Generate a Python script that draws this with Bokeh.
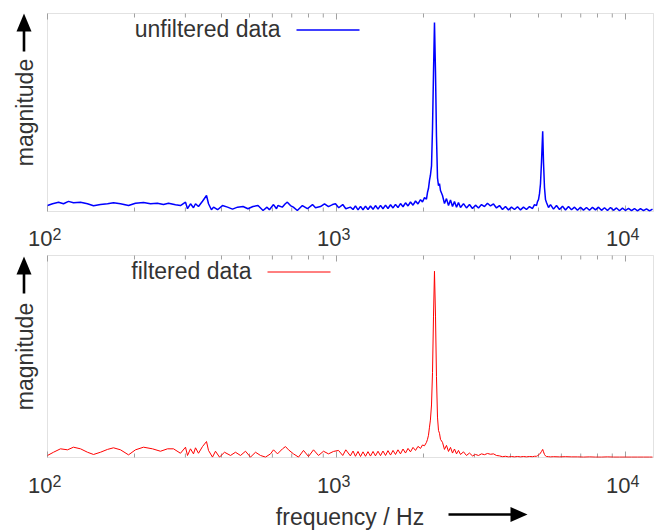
import math
from bokeh.plotting import figure
from bokeh.layouts import column
from bokeh.models import (Range1d, Label, BoxAnnotation, PolyAnnotation)
from bokeh.embed import file_html
from bokeh.resources import INLINE

# ---------------- data ----------------
x_range_start = 100
x_range_end = 12500
x_major_ticks = [100, 1000, 10000]
x_minor_ticks = [200, 300, 400, 500, 600, 700, 800, 900,
                 2000, 3000, 4000, 5000, 6000, 7000, 8000, 9000]
x_tick_base = ["10", "10", "10"]
x_tick_exponent = ["2", "3", "4"]

unfiltered_freq = [
    100, 104.1, 109.2, 113.6, 118.2, 123.0, 130.1, 137.5, 144.3, 152.5,
    161.3, 169.2, 178.9, 190.7, 201.6, 214.9, 227.2, 240.0, 251.9, 262.3,
    277.2, 288.5, 300.3, 305.1, 312.5, 320.0, 325.2, 333.0, 343.8, 355.0,
    360.7, 369.2, 375.5, 387.7, 403.1, 419.6, 436.7, 454.6, 475.0, 493.8,
    514.0, 535.1, 557.0, 575.0, 586.0, 605.4, 620.0, 627.0, 649.0, 665.0,
    676.0, 693.0, 709.0, 732.0, 762.0, 793.0, 826.0, 846.0, 880.0, 909.0,
    938.0, 969.0, 992.0, 1018, 1051, 1077, 1117,
    1141, 1163, 1187, 1211, 1235, 1260, 1285, 1311, 1338, 1364,
    1392, 1420, 1448, 1478, 1507, 1538, 1569, 1600, 1632, 1665,
    1699, 1733, 1768, 1803, 1840, 1877, 1914, 1953, 1984, 2016,
    2048, 2065, 2081, 2098, 2113, 2132, 2149, 2166, 2183, 2201,
    2218, 2236, 2254, 2272, 2290, 2327, 2364, 2402, 2441, 2480,
    2520, 2560, 2602, 2643, 2686, 2751, 2817, 2885, 2955, 3027,
    3100, 3175, 3252, 3330, 3411, 3493, 3578, 3664, 3753, 3844,
    3937, 4032, 4130, 4230, 4332, 4437, 4544, 4654, 4767, 4843,
    4921, 4960, 5000, 5040, 5080, 5121, 5170, 5203, 5245, 5287,
    5329, 5415, 5502, 5635, 5771, 5911, 6054, 6200, 6350, 6504,
    6661, 6822, 6987, 7156, 7329, 7507, 7688, 7874, 8065, 8260,
    8460, 8664, 8874, 9088, 9308, 9533, 9764, 10000, 10242, 10490,
    10744, 11004, 11270, 11542, 11822, 12108, 12401,
]
unfiltered_mag = [
    0.030, 0.039, 0.047, 0.039, 0.051, 0.044, 0.047, 0.039, 0.029, 0.035,
    0.039, 0.044, 0.039, 0.030, 0.042, 0.045, 0.039, 0.042, 0.035, 0.042,
    0.034, 0.030, 0.047, 0.014, 0.039, 0.019, 0.039, 0.025, 0.052, 0.081,
    0.039, 0.009, 0.022, 0.009, 0.030, 0.022, 0.012, 0.022, 0.025, 0.014,
    0.025, 0.030, 0.005, 0.022, 0.009, 0.035, 0.014, 0.030, 0.022, 0.039,
    0.047, 0.030, 0.022, 0.005, 0.030, 0.014, 0.035, 0.019, 0.025, 0.039,
    0.025, 0.035, 0.039, 0.019, 0.035, 0.014, 0.022,
    0.010, 0.028, 0.008, 0.026, 0.009, 0.027, 0.010, 0.028, 0.011, 0.030,
    0.012, 0.031, 0.014, 0.032, 0.015, 0.034, 0.018, 0.036, 0.020, 0.040,
    0.024, 0.044, 0.028, 0.048, 0.032, 0.053, 0.038, 0.060, 0.048, 0.070,
    0.062, 0.097, 0.116, 0.157, 0.182, 0.230, 0.420, 0.700, 0.955, 0.700,
    0.380, 0.170, 0.131, 0.141, 0.106, 0.081, 0.040, 0.065, 0.030, 0.058,
    0.025, 0.050, 0.022, 0.045, 0.020, 0.040, 0.018, 0.035, 0.015, 0.032,
    0.018, 0.035, 0.025, 0.042, 0.028, 0.038, 0.018, 0.030, 0.010, 0.025,
    0.008, 0.022, 0.010, 0.024, 0.008, 0.022, 0.010, 0.025, 0.015, 0.035,
    0.030, 0.050, 0.060, 0.090, 0.140, 0.250, 0.405, 0.250, 0.120, 0.060,
    0.045, 0.020, 0.035, 0.012, 0.030, 0.010, 0.026, 0.008, 0.025, 0.009,
    0.022, 0.006, 0.021, 0.007, 0.020, 0.006, 0.021, 0.008, 0.022, 0.006,
    0.019, 0.005, 0.020, 0.006, 0.018, 0.004, 0.017, 0.005, 0.016, 0.004,
    0.015, 0.003, 0.014, 0.004, 0.013, 0.003, 0.012,
]

filtered_freq = [
    100, 104.9, 110.9, 117.3, 123.0, 130.1, 137.5, 144.3, 152.5, 161.3,
    169.2, 178.9, 190.7, 201.6, 214.9, 230.8, 246.0, 260.2, 272.9, 288.5,
    300.3, 305.1, 312.5, 320.0, 325.2, 333.0, 343.8, 355.0, 360.7, 372.3,
    381.3, 393.7, 409.7, 429.8, 447.2, 465.4, 484.3, 504.0, 524.5, 545.8,
    568.0, 591.1, 605.4, 625.0, 650.4, 666.1, 682.2, 709.9, 738.8, 768.8,
    800.1, 832.6, 866.4, 901.6, 938.2, 976.4,
    1016, 1051, 1077, 1117, 1141, 1163, 1187, 1211, 1235, 1260,
    1285, 1311, 1338, 1364, 1392, 1420, 1448, 1478, 1507, 1538,
    1569, 1600, 1632, 1665, 1699, 1733, 1768, 1803, 1840, 1877,
    1914, 1953, 1984, 2016, 2048, 2065, 2081, 2098, 2113, 2132,
    2149, 2166, 2183, 2201, 2218, 2236, 2254, 2272, 2290, 2327,
    2364, 2402, 2441, 2480, 2520, 2560, 2602, 2643, 2686, 2751,
    2817, 2885, 2955, 3027, 3100, 3175, 3252, 3330, 3411, 3493,
    3578, 3664, 3753, 3844, 3937, 4032, 4130, 4230, 4332, 4437,
    4544, 4654, 4767, 4843, 4921, 4960, 5000, 5040, 5080, 5121,
    5170, 5203, 5245, 5287, 5329, 5415, 5502, 5635, 5911, 6200,
    6504, 6822, 7156, 7507, 7874, 8260, 8664, 9088, 9533, 10000,
    10490, 11004, 11542, 12108, 12401,
]
filtered_mag = [
    0.010, 0.026, 0.043, 0.038, 0.051, 0.043, 0.026, 0.015, 0.026, 0.040,
    0.048, 0.038, 0.013, 0.038, 0.051, 0.043, 0.031, 0.043, 0.043, 0.021,
    0.051, 0.010, 0.043, 0.018, 0.048, 0.021, 0.054, 0.079, 0.035, 0.002,
    0.031, 0.002, 0.026, 0.010, 0.026, 0.010, 0.031, 0.002, 0.026, 0.010,
    0.002, 0.018, 0.038, 0.018, 0.043, 0.054, 0.038, 0.018, 0.002, 0.035,
    0.005, 0.038, 0.010, 0.031, 0.018, 0.030,
    0.035, 0.010, 0.038, 0.008, 0.032, 0.006, 0.030, 0.005, 0.028, 0.006,
    0.029, 0.007, 0.030, 0.008, 0.031, 0.009, 0.032, 0.010, 0.034, 0.012,
    0.035, 0.015, 0.038, 0.018, 0.042, 0.022, 0.045, 0.028, 0.050, 0.035,
    0.055, 0.045, 0.062, 0.058, 0.075, 0.090, 0.110, 0.150, 0.185, 0.260,
    0.420, 0.700, 0.922, 0.700, 0.400, 0.200, 0.134, 0.120, 0.090, 0.075,
    0.040, 0.060, 0.030, 0.050, 0.022, 0.042, 0.018, 0.035, 0.015, 0.028,
    0.010, 0.022, 0.008, 0.015, 0.010, 0.018, 0.014, 0.020, 0.016, 0.018,
    0.010, 0.008, 0.004, 0.006, 0.003, 0.005, 0.003, 0.005, 0.003, 0.005,
    0.003, 0.005, 0.004, 0.006, 0.006, 0.009, 0.012, 0.016, 0.022, 0.030,
    0.040, 0.028, 0.015, 0.008, 0.005, 0.004, 0.003, 0.004, 0.003, 0.004,
    0.003, 0.003, 0.002, 0.003, 0.002, 0.002, 0.003, 0.002, 0.002, 0.002,
    0.002, 0.002, 0.002, 0.002, 0.002,
]

assert len(unfiltered_freq) == len(unfiltered_mag), (len(unfiltered_freq), len(unfiltered_mag))
assert len(filtered_freq) == len(filtered_mag), (len(filtered_freq), len(filtered_mag))

# ---------------- layout / styling ----------------
FONT = "Liberation Sans"
FS = 23
TEXT = "#333333"
FRAME = "#a0a0a0"
W = 657
BOX_LEFT, BOX_RIGHT = 47, 653          # pixel edges of the plot boxes
DECADE = (BOX_RIGHT - BOX_LEFT) / (math.log10(x_range_end) - math.log10(x_range_start))
X_LO = 10 ** (math.log10(x_range_start) - BOX_LEFT / DECADE)
X_HI = 10 ** (math.log10(x_range_end) + (W - BOX_RIGHT) / DECADE)
SCR = dict(left_units="screen", right_units="screen", top_units="screen", bottom_units="screen")
BASE_FIX = 0.36   # correction of Bokeh's alphabetic baseline placement (in em)


def px_to_x(px):
    """page pixel column -> frequency on the shared log axis"""
    return 10 ** (math.log10(X_LO) + px / DECADE)


class Panel:
    def __init__(self, top, H, box_top, box_bottom):
        self.top, self.H = top, H
        self.box_top, self.box_bottom = box_top, box_bottom
        unit = box_bottom - box_top
        self.unit = unit
        self.p = figure(width=W, height=H, x_axis_type="log",
                        x_axis_location=None, y_axis_location=None,
                        x_range=Range1d(X_LO, X_HI),
                        y_range=Range1d(-(top + H - box_bottom) / unit,
                                        1 + (box_top - top) / unit),
                        min_border=0, output_backend="svg", toolbar_location=None)
        self.p.outline_line_color = None
        self.p.grid.visible = False

    def sy(self, py):                       # page pixel row -> screen y of this figure
        return self.H - (py - self.top)

    def py_to_y(self, py):                  # page pixel row -> magnitude value
        return (self.box_bottom - py) / self.unit

    def text(self, x, py_base, txt, size, align="left", x_units="screen", x_offset=0):
        self.p.add_layout(Label(x=x, y=self.sy(py_base) + BASE_FIX * size,
                                x_units=x_units, y_units="screen", x_offset=x_offset,
                                text=txt, text_align=align, text_baseline="alphabetic",
                                text_font=FONT, text_font_size=f"{size}px", text_color=TEXT))

    def up_arrow(self, xc, py_tail, py_tip):
        t, tip = self.sy(py_tail), self.sy(py_tip)
        self.p.add_layout(BoxAnnotation(left=xc - 1.3, right=xc + 1.3, bottom=t, top=tip - 16,
                                        fill_color="black", fill_alpha=1, line_color=None, **SCR))
        self.p.add_layout(PolyAnnotation(xs=[xc - 7.5, xc + 7.5, xc],
                                         ys=[tip - 18, tip - 18, tip],
                                         xs_units="screen", ys_units="screen",
                                         fill_color="black", fill_alpha=1, line_color=None))

    def right_arrow(self, py, x_tail, x_tip):
        yc = self.sy(py)
        self.p.add_layout(BoxAnnotation(left=x_tail, right=x_tip - 15, bottom=yc - 1.3, top=yc + 1.3,
                                        fill_color="black", fill_alpha=1, line_color=None, **SCR))
        self.p.add_layout(PolyAnnotation(xs=[x_tip - 17, x_tip - 17, x_tip],
                                         ys=[yc - 7.5, yc + 7.5, yc],
                                         xs_units="screen", ys_units="screen",
                                         fill_color="black", fill_alpha=1, line_color=None))


def build(top, H, box_top, box_bottom, freq, mag, color, lw, legend, legend_right,
          legend_line_x0, legend_py, legend_line_py, tick_py, arrow_tip, arrow_tail):
    pn = Panel(top, H, box_top, box_bottom)
    p, unit = pn.p, pn.unit

    # plot box
    p.add_layout(BoxAnnotation(left=x_range_start, right=x_range_end, bottom=0, top=1,
                               fill_color=None, line_color=FRAME, line_width=1))
    # inward ticks on bottom and top edges
    for ticks, ln in ((x_major_ticks, 6), (x_minor_ticks, 4)):
        n = len(ticks)
        p.segment(x0=ticks, x1=ticks, y0=[0] * n, y1=[ln / unit] * n,
                  line_color=FRAME, line_width=1)
        p.segment(x0=ticks, x1=ticks, y0=[1] * n, y1=[1 - ln / unit] * n,
                  line_color=FRAME, line_width=1)

    p.line(freq, mag, line_color=color, line_width=lw)

    # legend key line (gnuplot style: text, then the line sample on its right)
    ky = pn.py_to_y(legend_line_py)
    p.line([px_to_x(legend_line_x0), px_to_x(legend_line_x0 + 63)], [ky, ky],
           line_color=color, line_width=lw)

    # tick labels 10^n
    for t, b, e in zip(x_major_ticks, x_tick_base, x_tick_exponent):
        pn.text(t, tick_py, b, 22, align="right", x_units="data", x_offset=5)
        pn.text(t, tick_py - 7, e, 16, align="left", x_units="data", x_offset=5)

    # legend text
    pn.text(legend_right, legend_py, legend, FS, align="right")

    # y label with arrow
    p.add_layout(Label(x=24, y=pn.sy((box_top + box_bottom) / 2), x_units="screen",
                       y_units="screen", text="magnitude", angle=math.pi / 2,
                       text_align="center", text_baseline="middle", text_font=FONT,
                       text_font_size=f"{FS}px", text_color=TEXT))
    pn.up_arrow(23.5, arrow_tail, arrow_tip)
    return pn


top_panel = build(0, 252, 13, 211, unfiltered_freq, unfiltered_mag, "#0000ff", 1.5,
                  "unfiltered data", 280, 296, 37, 29.5, 246, 13, 51)
bottom_panel = build(252, 280, 255, 457, filtered_freq, filtered_mag, "#ff0000", 1.0,
                     "filtered data", 251, 267, 279, 271.5, 493, 256, 293)

# x label with arrow (bottom panel)
bottom_panel.text(349.5, 525, "frequency / Hz", FS, align="center")
bottom_panel.right_arrow(514, 448, 527)

layout = column(top_panel.p, bottom_panel.p)
open("out.html", "w").write(file_html(layout, INLINE))
